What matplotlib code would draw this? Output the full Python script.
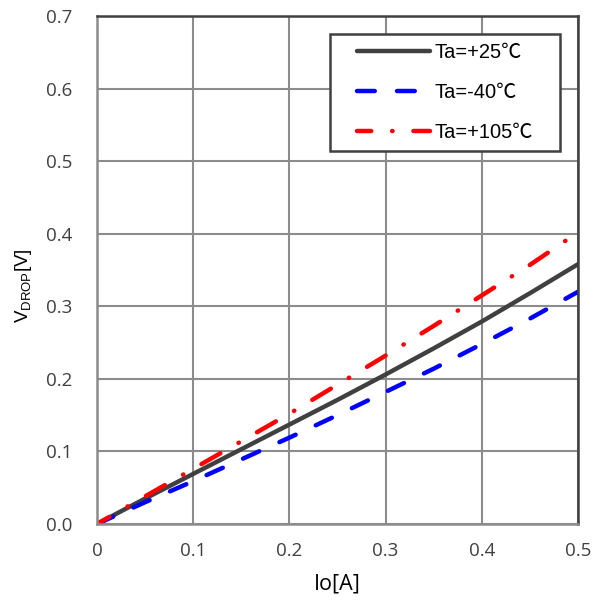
import matplotlib
matplotlib.use('Agg')
import matplotlib.pyplot as plt
from matplotlib.patches import Rectangle

# data
io_25 = [0.0, 0.05, 0.1, 0.15, 0.2, 0.25, 0.3, 0.35, 0.4, 0.45, 0.5]
v_25 = [0.0, 0.035, 0.069, 0.103, 0.137, 0.171, 0.206, 0.242, 0.279, 0.318, 0.358]
io_m40 = [0.0, 0.05, 0.1, 0.15, 0.2, 0.25, 0.3, 0.35, 0.4, 0.45, 0.5]
v_m40 = [0.0, 0.030, 0.059, 0.089, 0.119, 0.150, 0.182, 0.214, 0.248, 0.283, 0.320]
io_105 = [0.0, 0.05, 0.1, 0.15, 0.2, 0.25, 0.3, 0.35, 0.4, 0.45, 0.49]
v_105 = [0.0, 0.038, 0.076, 0.114, 0.152, 0.192, 0.232, 0.273, 0.315, 0.357, 0.393]
labels = ['Ta=+25℃', 'Ta=-40℃', 'Ta=+105℃']

plt.rcParams['mathtext.fontset'] = 'custom'
plt.rcParams['mathtext.rm'] = 'Liberation Sans'

fig = plt.figure(figsize=(6.05, 6.02), dpi=100)
ax = fig.add_axes([0.1603, 0.1296, 0.7951, 0.8438])

ax.plot(io_25, v_25, color='#404040', lw=3.2, label=labels[0], solid_capstyle='round')
ax.plot(io_m40, v_m40, color='#0000ff', lw=3.2, linestyle=(0, (4, 5)),
        dash_capstyle='round', label=labels[1])
ax.plot(io_105, v_105, color='#ff0000', lw=3.2, linestyle=(1.7, (4.9, 4.7, 0.1, 4.7)),
        dash_capstyle='round', label=labels[2])

ax.set_xlim(0, 0.5)
ax.set_ylim(0, 0.7)
ax.set_xticks([0, 0.1, 0.2, 0.3, 0.4, 0.5])
ax.set_xticklabels(['0', '0.1', '0.2', '0.3', '0.4', '0.5'])
ax.set_yticks([i / 10 for i in range(8)])
ax.set_yticklabels(['%.1f' % (i / 10) for i in range(8)])
ax.grid(True, color='#8c8c8c', lw=1.5)
ax.set_axisbelow(True)
ax.tick_params(length=0, labelsize=13.5, labelcolor='#404040')
ax.tick_params(axis='y', pad=18)
ax.tick_params(axis='x', pad=13)
for t in ax.get_xticklabels() + ax.get_yticklabels():
    t.set_family('Open Sans')

ax.spines['left'].set_color('#8c8c8c')
ax.spines['bottom'].set_color('#8c8c8c')
ax.spines['top'].set_color('#404040')
ax.spines['right'].set_color('#404040')
for s in ax.spines.values():
    s.set_linewidth(1.8)

ax.set_xlabel('Io[A]', family='Open Sans', fontsize=15.5, labelpad=10)
ax.set_ylabel('V$_{\\rm DROP}$[V]', family='Liberation Sans', fontsize=13.5)
ax.yaxis.set_label_coords(-0.131, 0.47)

leg = ax.legend(loc='upper right', bbox_to_anchor=(0.928, 0.967), frameon=False,
                borderpad=0.0, labelspacing=1.05, handlelength=3.6, handletextpad=0.25,
                prop={'family': ['Liberation Sans', 'Noto Sans CJK JP'], 'size': 14.5})
leg.set_zorder(5)

# legend frame: wider padding left/right than top/bottom, as in the reference
fig.canvas.draw()
bb = leg.get_window_extent().transformed(fig.transFigure.inverted())
padx, pady = 27 / 605, 9 / 602
ax.add_artist(Rectangle((bb.x0 - padx, bb.y0 - pady), bb.width + 2 * padx, bb.height + 2 * pady,
                        transform=fig.transFigure, facecolor='white', edgecolor='#404040',
                        lw=1.8, zorder=4.5))

fig.savefig('out.png', dpi=100)
